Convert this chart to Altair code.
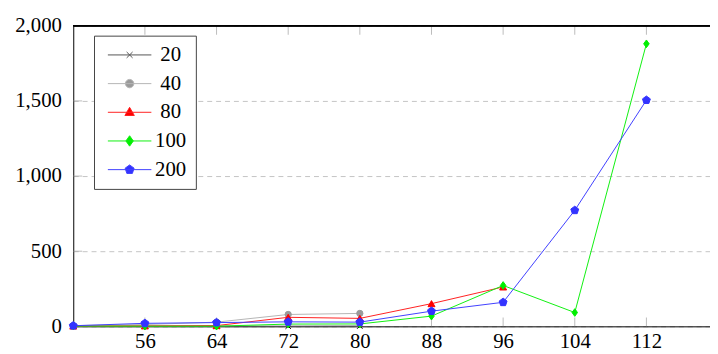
import altair as alt
import pandas as pd

# ---- data ----
x_vals = [48, 56, 64, 72, 80, 88, 96, 104, 112]
series_names = ["20", "40", "80", "100", "200"]
s20 = [1, 1, 1, 1, 2]
s40 = [5, 12, 28, 79, 86]
s80 = [2, 3, 5, 60, 53, 151, 262]
s100 = [2, 1, 1, 15, 16, 68, 272, 92, 1880]
s200 = [4, 20, 25, 30, 28, 101, 160, 772, 1505]
x_ticks = [56, 64, 72, 80, 88, 96, 104, 112]
y_ticks = [0, 500, 1000, 1500, 2000]
inner_y_ticks = [500, 1000, 1500]
x_min, x_max = 48, 119.1
y_min, y_max = 0, 2000

line_colors = ["#555555", "#b5b5b5", "#ff2020", "#10f010", "#4040ff"]
mark_colors = ["#000000", "#9a9a9a", "#ff0000", "#00ee00", "#3333ff"]
mark_shapes = [
    "M-1,-1L1,1M-1,1L1,-1",
    "circle",
    "triangle-up",
    "M0,-1L0.72,0L0,1L-0.72,0Z",
    "M0,-1L0.951,-0.309L0.588,0.809L-0.588,0.809L-0.951,-0.309Z",
]
mark_sizes = [30, 70, 95, 85, 110]
# legend symbols: unit = 5 px (symbolSize 100); line spans 44 px, marker ~8 px
legend_shapes = [
    "M-4.4,0L4.4,0M-0.6,-0.6L0.6,0.6M-0.6,0.6L0.6,-0.6",
    "M-4.4,0L4.4,0M-0.85,0A0.85,0.85,0,1,0,0.85,0A0.85,0.85,0,1,0,-0.85,0Z",
    "M-4.4,0L4.4,0M0,-1L0.95,0.65L-0.95,0.65Z",
    "M-4.4,0L4.4,0M0,-1.05L0.75,0L0,1.05L-0.75,0Z",
    "M-4.4,0L4.4,0M0,-0.95L0.905,-0.295L0.56,0.77L-0.56,0.77L-0.905,-0.295Z",
]

rows = []
for name, vals in zip(series_names, [s20, s40, s80, s100, s200]):
    for xv, yv in zip(x_vals, vals):
        rows.append({"x": xv, "y": yv, "series": name})
df = pd.DataFrame(rows)
df_xt = pd.DataFrame({"x": x_ticks})
df_yt = pd.DataFrame({"y": inner_y_ticks})

FONT = "Liberation Serif, DejaVu Serif, serif"
FS = 21

x_enc = alt.X(
    "x:Q",
    scale=alt.Scale(domain=[x_min, x_max], nice=False, zero=False),
    axis=alt.Axis(values=x_ticks, format="d", ticks=False, grid=False,
                  labelPadding=4, domainColor="#000000", title=None,
                  labelFont=FONT, labelFontSize=FS, labelColor="#000000"),
)
y_enc = alt.Y(
    "y:Q",
    scale=alt.Scale(domain=[y_min, y_max], nice=False),
    axis=alt.Axis(values=y_ticks, format=",.0f", ticks=False, grid=True,
                  gridDash=[5, 4], gridColor="#c4c4c4", labelPadding=12,
                  domainColor="#000000", title=None,
                  labelFont=FONT, labelFontSize=FS, labelColor="#000000"),
)

base = alt.Chart(df)

lines = base.mark_line(strokeWidth=1).encode(
    x=x_enc, y=y_enc,
    color=alt.Color("series:N", scale=alt.Scale(domain=series_names, range=line_colors), legend=None),
    order="x:Q",
)

points = base.mark_point(filled=True, strokeWidth=1, opacity=1).encode(
    x="x:Q", y="y:Q",
    color=alt.Color("series:N", scale=alt.Scale(domain=series_names, range=mark_colors), legend=None),
    stroke=alt.Stroke("series:N", scale=alt.Scale(domain=series_names, range=mark_colors), legend=None),
    shape=alt.Shape("series:N", scale=alt.Scale(domain=series_names, range=mark_shapes), legend=None),
    size=alt.Size("series:N", scale=alt.Scale(domain=series_names, range=mark_sizes), legend=None),
)

leg = alt.Legend(
    title=None, orient="none", legendX=21, legendY=10,
    labelFont=FONT, labelFontSize=FS, labelColor="#000000", labelAlign="center",
    symbolSize=100, symbolStrokeWidth=1, symbolOpacity=1, symbolOffset=16.5,
    strokeColor="#444444", fillColor="#ffffff", padding=9,
    rowPadding=7, labelOffset=31,
)
legend_layer = base.mark_point(size=0, strokeWidth=1).encode(
    x="x:Q", y="y:Q",
    fill=alt.Fill("series:N", scale=alt.Scale(domain=series_names, range=mark_colors), legend=leg),
    stroke=alt.Stroke("series:N", scale=alt.Scale(domain=series_names, range=line_colors), legend=leg),
    shape=alt.Shape("series:N", scale=alt.Scale(domain=series_names, range=legend_shapes), legend=leg),
)

tick_color = "#a0a0a0"
bottom_ticks = alt.Chart(df_xt).mark_tick(orient="vertical", size=9, thickness=1,
                                          color=tick_color, yOffset=-4.5).encode(
    x="x:Q", y=alt.datum(y_min))
top_ticks = alt.Chart(df_xt).mark_tick(orient="vertical", size=9, thickness=1,
                                       color=tick_color, yOffset=4.5).encode(
    x="x:Q", y=alt.datum(y_max))
left_ticks = alt.Chart(df_yt).mark_tick(orient="horizontal", size=9, thickness=1,
                                        color=tick_color, xOffset=4.5).encode(
    y="y:Q", x=alt.datum(x_min))
top_border = alt.Chart(df_xt).mark_rule(color="#000000", strokeWidth=1).encode(
    y=alt.datum(y_max))

chart = alt.layer(
    lines, bottom_ticks, top_ticks, left_ticks, top_border, points, legend_layer
).resolve_scale(
    color="independent", stroke="independent", shape="independent",
    fill="independent", size="independent",
).properties(
    width=644, height=304,
    autosize=alt.AutoSizeParams(type="none"),
    padding={"left": 66, "top": 16, "right": 0, "bottom": 26},
    background="#ffffff",
).configure_view(stroke=None)

chart.save("out.html", embed_options={"renderer": "svg", "actions": False})
